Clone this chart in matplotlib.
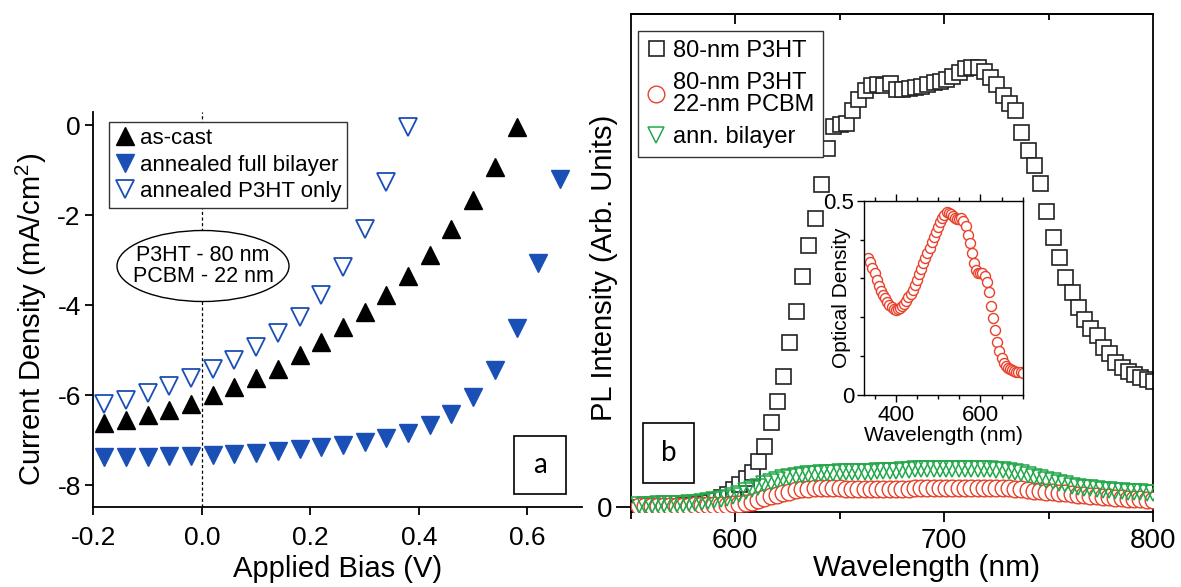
import matplotlib
matplotlib.use("Agg")
import matplotlib.pyplot as plt
from matplotlib.patches import Ellipse, Rectangle
from matplotlib.ticker import FixedLocator, NullLocator

plt.rcParams['font.family'] = ['Liberation Sans', 'DejaVu Sans']
plt.rcParams['axes.unicode_minus'] = False
plt.rcParams['mathtext.fontset'] = 'custom'
plt.rcParams['mathtext.rm'] = 'Liberation Sans'

# ---------------- panel a : J-V curves ----------------
bias_cast = [-0.18, -0.14, -0.10, -0.06, -0.02, 0.02, 0.06, 0.10, 0.14, 0.18,
             0.22, 0.26, 0.30, 0.34, 0.38, 0.42, 0.46, 0.50, 0.54, 0.58]
j_cast = [-6.63, -6.56, -6.44, -6.32, -6.19, -6.00, -5.81, -5.63, -5.41, -5.11,
          -4.81, -4.48, -4.15, -3.78, -3.36, -2.88, -2.31, -1.67, -0.93, -0.04]

bias_full = [-0.18, -0.14, -0.10, -0.06, -0.02, 0.02, 0.06, 0.10, 0.14, 0.18, 0.22,
             0.26, 0.30, 0.34, 0.38, 0.42, 0.46, 0.50, 0.54, 0.58, 0.62, 0.66]
j_full = [-7.38, -7.38, -7.37, -7.36, -7.35, -7.32, -7.30, -7.28, -7.24, -7.19, -7.15,
          -7.11, -7.04, -6.96, -6.85, -6.67, -6.43, -6.04, -5.44, -4.50, -3.07, -1.19]

bias_p3ht = [-0.18, -0.14, -0.10, -0.06, -0.02, 0.02, 0.06, 0.10, 0.14, 0.18,
             0.22, 0.26, 0.30, 0.34, 0.38]
j_p3ht = [-6.19, -6.10, -5.96, -5.80, -5.63, -5.43, -5.22, -4.93, -4.63, -4.26,
          -3.78, -3.15, -2.30, -1.26, -0.04]

# ---------------- panel b : PL spectra ----------------
wl = [554, 557, 560, 563, 566, 569, 572, 575, 578, 581, 584, 587, 590, 593, 596, 599,
      602, 605, 608, 611, 614, 617, 620, 623, 626, 629, 632, 635, 638, 641, 644, 647,
      650, 653, 656, 659, 662, 665, 668, 671, 674, 677, 680, 683, 686, 689, 692, 695,
      698, 701, 704, 707, 710, 713, 716, 719, 722, 725, 728, 731, 734, 737, 740, 743,
      746, 749, 752, 755, 758, 761, 764, 767, 770, 773, 776, 779, 782, 785, 788, 791,
      794, 797, 800]
pl_p3ht = [0.000, 0.000, 0.001, 0.001, 0.001, 0.002, 0.002, 0.003, 0.004, 0.005, 0.007,
           0.010, 0.014, 0.019, 0.026, 0.035, 0.046, 0.058, 0.070, 0.093, 0.124, 0.172,
           0.215, 0.265, 0.334, 0.397, 0.468, 0.531, 0.585, 0.655, 0.728, 0.772, 0.777,
           0.778, 0.805, 0.828, 0.845, 0.855, 0.858, 0.856, 0.859, 0.848, 0.847, 0.849,
           0.851, 0.853, 0.857, 0.862, 0.865, 0.869, 0.875, 0.882, 0.890, 0.893, 0.893,
           0.885, 0.873, 0.857, 0.836, 0.820, 0.806, 0.760, 0.723, 0.694, 0.656, 0.600,
           0.548, 0.506, 0.467, 0.435, 0.405, 0.380, 0.362, 0.348, 0.325, 0.311, 0.294,
           0.283, 0.275, 0.269, 0.264, 0.259, 0.256]
pl_pcbm = [0.002, 0.002, 0.002, 0.002, 0.002, 0.002, 0.002, 0.002, 0.002, 0.003, 0.003,
           0.003, 0.003, 0.004, 0.004, 0.005, 0.006, 0.007, 0.009, 0.013, 0.017, 0.021,
           0.024, 0.027, 0.030, 0.033, 0.035, 0.036, 0.037, 0.037, 0.037, 0.037, 0.037,
           0.036, 0.036, 0.036, 0.036, 0.036, 0.036, 0.036, 0.036, 0.036, 0.036, 0.036,
           0.037, 0.037, 0.037, 0.038, 0.038, 0.039, 0.039, 0.039, 0.039, 0.039, 0.039,
           0.038, 0.038, 0.038, 0.037, 0.037, 0.036, 0.035, 0.034, 0.032, 0.031, 0.030,
           0.029, 0.028, 0.027, 0.025, 0.024, 0.023, 0.022, 0.021, 0.020, 0.019, 0.018,
           0.017, 0.016, 0.016, 0.015, 0.014, 0.014]
pl_ann = [0.004, 0.004, 0.004, 0.005, 0.005, 0.005, 0.006, 0.006, 0.007, 0.008, 0.009,
          0.011, 0.013, 0.015, 0.018, 0.022, 0.026, 0.031, 0.036, 0.041, 0.046, 0.050,
          0.054, 0.058, 0.061, 0.063, 0.065, 0.066, 0.067, 0.068, 0.069, 0.069, 0.070,
          0.070, 0.070, 0.071, 0.071, 0.071, 0.072, 0.072, 0.072, 0.073, 0.074, 0.075,
          0.076, 0.076, 0.076, 0.076, 0.076, 0.076, 0.076, 0.077, 0.077, 0.077, 0.077,
          0.076, 0.076, 0.075, 0.074, 0.073, 0.071, 0.068, 0.064, 0.061, 0.058, 0.055,
          0.052, 0.049, 0.046, 0.043, 0.041, 0.039, 0.037, 0.035, 0.034, 0.033, 0.032,
          0.031, 0.030, 0.029, 0.029, 0.028, 0.028]

# ---------------- inset : absorbance ----------------
abs_wl = [335, 340, 345, 350, 355, 360, 365, 370, 375, 380, 385, 390, 395, 400, 405,
          410, 415, 420, 425, 430, 435, 440, 445, 450, 455, 460, 465, 470, 475, 480,
          485, 490, 495, 500, 505, 510, 515, 520, 525, 530, 535, 540, 545, 550, 555,
          560, 565, 570, 575, 580, 585, 590, 595, 600, 605, 610, 615, 620, 625, 630,
          635, 640, 645, 650, 655, 660, 665, 670, 675, 680, 685, 690, 695, 700]
od = [0.352, 0.341, 0.328, 0.313, 0.296, 0.281, 0.268, 0.258, 0.249, 0.240, 0.232,
      0.227, 0.222, 0.220, 0.221, 0.223, 0.228, 0.235, 0.243, 0.251, 0.260, 0.271,
      0.284, 0.297, 0.311, 0.325, 0.339, 0.352, 0.365, 0.379, 0.393, 0.406, 0.419,
      0.432, 0.444, 0.455, 0.464, 0.470, 0.469, 0.465, 0.460, 0.455, 0.452, 0.454,
      0.455, 0.449, 0.434, 0.413, 0.391, 0.366, 0.340, 0.321, 0.313, 0.313, 0.314,
      0.307, 0.292, 0.265, 0.230, 0.197, 0.166, 0.137, 0.113, 0.095, 0.082, 0.074,
      0.069, 0.066, 0.064, 0.062, 0.060, 0.059, 0.058, 0.057]

blue = '#1a4fb5'
red = '#e8402a'
green = '#22a84a'

W, H = 1181, 587
fig = plt.figure(figsize=(W / 100, H / 100), dpi=100)


def px(x0, y0, x1, y1):
    # pixel box (left, top, right, bottom) -> figure fraction rect
    return [x0 / W, 1 - y1 / H, (x1 - x0) / W, (y1 - y0) / H]


# ===== panel a =====
ax = fig.add_axes(px(93.3, 111.7, 581.7, 506.7))
ax.axvline(0, color='black', lw=0.9, ls=(0, (2.5, 2)), zorder=0.5)
ax.plot(bias_cast, j_cast, ls='none', marker='^', ms=13, color='black',
        label='as-cast', zorder=3, clip_on=False)
ax.plot(bias_full, j_full, ls='none', marker='v', ms=13, color=blue,
        label='annealed full bilayer', zorder=3, clip_on=False)
ax.plot(bias_p3ht, j_p3ht, ls='none', marker='v', ms=13, mfc='white', mec=blue,
        mew=1.3, label='annealed P3HT only', zorder=3, clip_on=False)
ax.set_xlim(-0.2, 0.70)
ax.set_ylim(-8.48, 0.3)
ax.set_xticks([-0.2, 0.0, 0.2, 0.4, 0.6])
ax.set_xticklabels(['-0.2', '0.0', '0.2', '0.4', '0.6'])
ax.set_yticks([0, -2, -4, -6, -8])
for s in ['top', 'right']:
    ax.spines[s].set_visible(False)
for s in ['left', 'bottom']:
    ax.spines[s].set_linewidth(1.3)
ax.tick_params(labelsize=19, width=1.3, length=6, direction='out', pad=3)
ax.tick_params(axis='x', pad=8)
ax.set_xlabel('Applied Bias (V)', fontsize=21)
ax.set_ylabel(r'Current Density (mA/cm$^\mathrm{2}$)', fontsize=21)
ax.xaxis.set_label_coords(0.5, -0.122)
ax.yaxis.set_label_coords(-0.091, 0.474)
leg = ax.legend(loc='upper left', bbox_to_anchor=(0.032, 0.974), fontsize=16,
                frameon=True, fancybox=False, edgecolor='#333333', framealpha=1,
                borderaxespad=0, borderpad=0.28, handlelength=0.9, handletextpad=0.2,
                labelspacing=0.24, markerscale=1.0)
leg.get_frame().set_linewidth(1.0)
leg.set_zorder(5)

ell = Ellipse((203 / W, 1 - 266 / H), 172 / W, 71 / H, transform=fig.transFigure,
              facecolor='white', edgecolor='black', lw=1.0, zorder=4, clip_on=False)
ax.add_artist(ell)
ax.text(203 / W, 1 - 266 / H, 'P3HT - 80 nm\nPCBM - 22 nm', transform=fig.transFigure,
        ha='center', va='center', fontsize=15.5, linespacing=0.95, zorder=6)

# ===== panel b =====
bx = fig.add_axes(px(630.7, 14, 1153, 511.7))
bx.plot(wl, pl_p3ht, ls='none', marker='s', ms=10.8, mfc='white', mec='#222222',
        mew=1.2, label='80-nm P3HT', zorder=2)
bx.plot(wl, pl_pcbm, ls='none', marker='o', ms=12, mfc='white', mec=red,
        mew=1.0, label='80-nm P3HT\n22-nm PCBM', zorder=3)
bx.plot(wl, pl_ann, ls='none', marker='v', ms=11, mfc='none', mec=green,
        mew=1.1, label='ann. bilayer', zorder=4)
bx.set_xlim(550, 800)
bx.set_ylim(-0.0101, 1.0)
bx.xaxis.set_major_locator(FixedLocator([600, 700, 800]))
bx.xaxis.set_minor_locator(FixedLocator([550, 650, 750]))
bx.yaxis.set_major_locator(FixedLocator([0]))
bx.yaxis.set_minor_locator(NullLocator())
for s in bx.spines.values():
    s.set_linewidth(1.3)
bx.tick_params(axis='x', which='major', labelsize=20, width=1.3, length=7,
               direction='out', pad=5)
bx.tick_params(axis='x', which='minor', width=1.3, length=5, direction='out')
bx.tick_params(axis='y', labelsize=20, width=1.3, length=11, direction='out', pad=2)
# inward ticks along the top edge
tx = bx.secondary_xaxis('top')
tx.xaxis.set_major_locator(FixedLocator([600, 700]))
tx.xaxis.set_minor_locator(FixedLocator([650, 750]))
tx.tick_params(which='major', direction='in', length=7, width=1.3, labeltop=False)
tx.tick_params(which='minor', direction='in', length=4, width=1.3)
tx.spines['top'].set_linewidth(1.3)
bx.set_xlabel('Wavelength (nm)', fontsize=21.5)
bx.set_ylabel('PL Intensity (Arb. Units)', fontsize=21)
bx.xaxis.set_label_coords(0.567, -0.085)
bx.yaxis.set_label_coords(-0.025, 0.49)
leg2 = bx.legend(loc='upper left', bbox_to_anchor=(0.014, 0.966), fontsize=17,
                 frameon=True, fancybox=False, edgecolor='#333333', framealpha=1,
                 borderaxespad=0, borderpad=0.37, handlelength=0.8, handletextpad=0.3,
                 labelspacing=0.42)
for t in leg2.get_texts():
    t.set_linespacing(1.05)
leg2.get_frame().set_linewidth(1.0)
leg2.set_zorder(6)

# ===== inset =====
ix = fig.add_axes(px(864, 200.7, 1022.7, 395))
ix.set_zorder(5)
ix.plot(abs_wl, od, ls='none', marker='o', ms=7.2, mfc='white', mec=red, mew=1.0)
ix.set_xlim(325, 700)
ix.set_ylim(0, 0.5)
ix.xaxis.set_major_locator(FixedLocator([400, 600]))
ix.xaxis.set_minor_locator(FixedLocator([350, 450, 500, 550, 650, 700]))
ix.yaxis.set_major_locator(FixedLocator([0, 0.5]))
ix.yaxis.set_minor_locator(FixedLocator([0.1, 0.2, 0.3, 0.4]))
ix.set_yticklabels(['0', '0.5'])
for s in ix.spines.values():
    s.set_linewidth(1.0)
ix.tick_params(which='major', labelsize=16, width=1.0, length=5, direction='out', pad=2)
ix.tick_params(which='minor', width=1.0, length=3, direction='out')
ix.tick_params(axis='x', which='both', top=True)
ix.set_xlabel('Wavelength (nm)', fontsize=15, labelpad=0)
ix.set_ylabel('Optical Density', fontsize=15)
ix.yaxis.set_label_coords(-0.079, 0.5)

# ===== panel tags =====
for (x0, y0, x1, y1, tag) in [(514, 436, 566, 494, 'a'), (642.7, 423.3, 694.3, 482.7, 'b')]:
    r = Rectangle((x0 / W, 1 - y1 / H), (x1 - x0) / W, (y1 - y0) / H,
                  transform=fig.transFigure, facecolor='white', edgecolor='black',
                  lw=1.2, zorder=10)
    fig.add_artist(r)
    fig.text((x0 + x1) / 2 / W, 1 - (y0 + y1) / 2 / H, tag, ha='center', va='center',
             fontsize=20, family=['Lato', 'DejaVu Sans'], zorder=11)

fig.savefig('out.png', dpi=100)
